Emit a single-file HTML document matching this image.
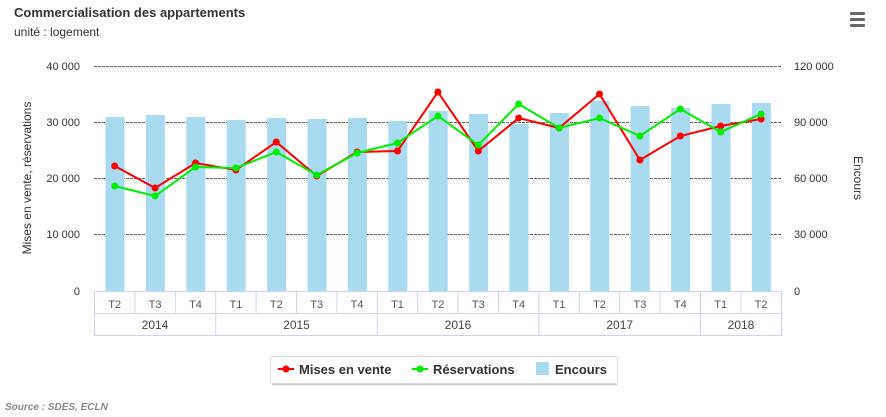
<!DOCTYPE html>
<html><head><meta charset="utf-8"><style>
body{margin:0;background:#fff;}
svg{display:block;font-family:"Liberation Sans",sans-serif;}
</style></head><body>
<svg width="886" height="417" viewBox="0 0 886 417" xmlns="http://www.w3.org/2000/svg">
<text x="14" y="17" font-size="13" font-weight="bold" fill="#333">Commercialisation des appartements</text>
<text x="14" y="36" font-size="12" fill="#333">unité : logement</text>
<g fill="#666"><rect x="850" y="12" width="15" height="3" rx="1"/><rect x="850" y="18" width="15" height="3" rx="1"/><rect x="850" y="24" width="15" height="3" rx="1"/></g>
<g stroke="#666" stroke-width="1" stroke-dasharray="3,1">
<line x1="94" y1="66.5" x2="782" y2="66.5"/><line x1="94" y1="122.5" x2="782" y2="122.5"/><line x1="94" y1="178.5" x2="782" y2="178.5"/><line x1="94" y1="234.5" x2="782" y2="234.5"/>
</g>
<g font-size="11" fill="#333" text-anchor="end">
<text x="80" y="70">40 000</text><text x="80" y="126">30 000</text><text x="80" y="182">20 000</text><text x="80" y="238">10 000</text><text x="80" y="295">0</text>
</g>
<g font-size="11" fill="#333">
<text x="794" y="70">120 000</text><text x="794" y="126">90 000</text><text x="794" y="182">60 000</text><text x="794" y="238">30 000</text><text x="794" y="295">0</text>
</g>
<text transform="translate(31,178) rotate(-90)" font-size="12" fill="#333" text-anchor="middle">Mises en vente, réservations</text>
<text transform="translate(854,178) rotate(90)" font-size="12" fill="#333" text-anchor="middle">Encours</text>
<g fill="#a8daf0">
<rect x="105.5" y="117" width="19" height="174"/><rect x="145.9" y="115" width="19" height="176"/><rect x="186.3" y="117" width="19" height="174"/><rect x="226.7" y="120" width="19" height="171"/><rect x="267.1" y="118" width="19" height="173"/><rect x="307.5" y="119" width="19" height="172"/><rect x="347.9" y="118" width="19" height="173"/><rect x="388.3" y="121" width="19" height="170"/><rect x="428.7" y="111" width="19" height="180"/><rect x="469.1" y="114" width="19" height="177"/><rect x="509.5" y="124" width="19" height="167"/><rect x="549.9" y="113" width="19" height="178"/><rect x="590.3" y="101" width="19" height="190"/><rect x="630.7" y="106" width="19" height="185"/><rect x="671.1" y="108" width="19" height="183"/><rect x="711.5" y="104" width="19" height="187"/><rect x="751.9" y="103" width="19" height="188"/>
</g>
<g fill="none" stroke="#ccd6eb" stroke-width="1">
<rect x="94.5" y="291.5" width="687" height="44"/>
<line x1="94.5" y1="313.5" x2="781.5" y2="313.5"/>
<line x1="134.9" y1="291" x2="134.9" y2="313"/><line x1="175.3" y1="291" x2="175.3" y2="313"/><line x1="215.7" y1="291" x2="215.7" y2="336"/><line x1="256.1" y1="291" x2="256.1" y2="313"/><line x1="296.5" y1="291" x2="296.5" y2="313"/><line x1="336.9" y1="291" x2="336.9" y2="313"/><line x1="377.3" y1="291" x2="377.3" y2="336"/><line x1="417.7" y1="291" x2="417.7" y2="313"/><line x1="458.1" y1="291" x2="458.1" y2="313"/><line x1="498.5" y1="291" x2="498.5" y2="313"/><line x1="538.9" y1="291" x2="538.9" y2="336"/><line x1="579.3" y1="291" x2="579.3" y2="313"/><line x1="619.7" y1="291" x2="619.7" y2="313"/><line x1="660.1" y1="291" x2="660.1" y2="313"/><line x1="700.5" y1="291" x2="700.5" y2="336"/><line x1="740.9" y1="291" x2="740.9" y2="313"/>
</g>
<line x1="94" y1="291.5" x2="782" y2="291.5" stroke="#ccd6eb"/>
<g font-size="11" fill="#555" text-anchor="middle">
<text x="114.7" y="308">T2</text><text x="155.1" y="308">T3</text><text x="195.5" y="308">T4</text><text x="235.9" y="308">T1</text><text x="276.3" y="308">T2</text><text x="316.7" y="308">T3</text><text x="357.1" y="308">T4</text><text x="397.5" y="308">T1</text><text x="437.9" y="308">T2</text><text x="478.3" y="308">T3</text><text x="518.7" y="308">T4</text><text x="559.1" y="308">T1</text><text x="599.5" y="308">T2</text><text x="639.9" y="308">T3</text><text x="680.3" y="308">T4</text><text x="720.7" y="308">T1</text><text x="761.1" y="308">T2</text>
</g>
<g font-size="12" fill="#444" text-anchor="middle">
<text x="155" y="329">2014</text><text x="296.5" y="329">2015</text><text x="458" y="329">2016</text><text x="619.7" y="329">2017</text><text x="741" y="329">2018</text>
</g>
<polyline fill="none" stroke="#ff0000" stroke-width="2" points="114.7,166 155.1,188 195.5,163 235.9,170 276.3,142 316.7,176 357.1,152 397.5,151 437.9,92 478.3,151 518.7,118 559.1,128 599.5,94 639.9,160 680.3,136 720.7,126 761.1,119"/>
<g fill="#ff0000"><circle cx="114.7" cy="166" r="3.5"/><circle cx="155.1" cy="188" r="3.5"/><circle cx="195.5" cy="163" r="3.5"/><circle cx="235.9" cy="170" r="3.5"/><circle cx="276.3" cy="142" r="3.5"/><circle cx="316.7" cy="176" r="3.5"/><circle cx="357.1" cy="152" r="3.5"/><circle cx="397.5" cy="151" r="3.5"/><circle cx="437.9" cy="92" r="3.5"/><circle cx="478.3" cy="151" r="3.5"/><circle cx="518.7" cy="118" r="3.5"/><circle cx="559.1" cy="128" r="3.5"/><circle cx="599.5" cy="94" r="3.5"/><circle cx="639.9" cy="160" r="3.5"/><circle cx="680.3" cy="136" r="3.5"/><circle cx="720.7" cy="126" r="3.5"/><circle cx="761.1" cy="119" r="3.5"/></g>
<polyline fill="none" stroke="#00ee00" stroke-width="2" points="114.7,186 155.1,196 195.5,167 235.9,168 276.3,152 316.7,175 357.1,153 397.5,143 437.9,116 478.3,145 518.7,104 559.1,128 599.5,118 639.9,136 680.3,109 720.7,132 761.1,114"/>
<g fill="#00ee00"><circle cx="114.7" cy="186" r="3.5"/><circle cx="155.1" cy="196" r="3.5"/><circle cx="195.5" cy="167" r="3.5"/><circle cx="235.9" cy="168" r="3.5"/><circle cx="276.3" cy="152" r="3.5"/><circle cx="316.7" cy="175" r="3.5"/><circle cx="357.1" cy="153" r="3.5"/><circle cx="397.5" cy="143" r="3.5"/><circle cx="437.9" cy="116" r="3.5"/><circle cx="478.3" cy="145" r="3.5"/><circle cx="518.7" cy="104" r="3.5"/><circle cx="559.1" cy="128" r="3.5"/><circle cx="599.5" cy="118" r="3.5"/><circle cx="639.9" cy="136" r="3.5"/><circle cx="680.3" cy="109" r="3.5"/><circle cx="720.7" cy="132" r="3.5"/><circle cx="761.1" cy="114" r="3.5"/></g>
<rect x="270.5" y="356.5" width="347" height="27" rx="2" fill="#fff" stroke="#ddd"/>
<line x1="272" y1="384.5" x2="617" y2="384.5" stroke="#ccc" stroke-width="1.5"/>
<line x1="278" y1="369" x2="294" y2="369" stroke="#ff0000" stroke-width="2"/><circle cx="286" cy="369" r="3.5" fill="#ff0000"/>
<text x="299" y="374" font-size="13" font-weight="bold" fill="#333">Mises en vente</text>
<line x1="412" y1="369" x2="428" y2="369" stroke="#00ee00" stroke-width="2"/><circle cx="420" cy="369" r="3.5" fill="#00ee00"/>
<text x="433" y="374" font-size="13" font-weight="bold" fill="#333">Réservations</text>
<rect x="536" y="362" width="13" height="13" fill="#a8daf0"/>
<text x="555" y="374" font-size="13" font-weight="bold" fill="#333">Encours</text>
<text x="5" y="410" font-size="10" font-style="italic" font-weight="bold" fill="#888">Source : SDES, ECLN</text>
</svg>
</body></html>
